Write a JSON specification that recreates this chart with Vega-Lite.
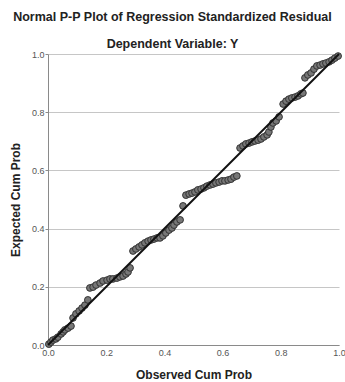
{
  "$schema": "https://vega.github.io/schema/vega-lite/v6.json",
  "width": 291,
  "height": 291,
  "autosize": {"type": "none"},
  "padding": {"left": 48, "top": 54, "right": 6, "bottom": 37},
  "background": "white",
  "title": {
    "text": "Normal P-P Plot of Regression Standardized Residual",
    "subtitle": "Dependent Variable: Y",
    "anchor": "middle",
    "dx": -21,
    "offset": 0,
    "subtitlePadding": 14,
    "font": "Liberation Sans",
    "fontSize": 12.5,
    "fontWeight": "bold",
    "color": "#222222",
    "subtitleFont": "Liberation Sans",
    "subtitleFontSize": 12.5,
    "subtitleFontWeight": "bold",
    "subtitleColor": "#222222"
  },
  "config": {
    "view": {"stroke": null},
    "axis": {
      "labelFont": "Liberation Sans",
      "labelFontSize": 9,
      "labelColor": "#555555",
      "labelFlush": false,
      "titleFont": "Liberation Sans",
      "titleFontSize": 12,
      "titleFontWeight": "bold",
      "titleColor": "#222222",
      "domainColor": "#8a8a8a",
      "tickColor": "#8a8a8a",
      "gridColor": "#c6c6c6"
    }
  },
  "datasets": {
    "points": [
      {"observed": 0.003, "expected": 0.003},
      {"observed": 0.010, "expected": 0.010},
      {"observed": 0.017, "expected": 0.017},
      {"observed": 0.027, "expected": 0.021},
      {"observed": 0.034, "expected": 0.027},
      {"observed": 0.045, "expected": 0.038},
      {"observed": 0.052, "expected": 0.045},
      {"observed": 0.058, "expected": 0.052},
      {"observed": 0.069, "expected": 0.058},
      {"observed": 0.079, "expected": 0.065},
      {"observed": 0.086, "expected": 0.093},
      {"observed": 0.096, "expected": 0.107},
      {"observed": 0.107, "expected": 0.117},
      {"observed": 0.117, "expected": 0.127},
      {"observed": 0.127, "expected": 0.137},
      {"observed": 0.137, "expected": 0.155},
      {"observed": 0.144, "expected": 0.196},
      {"observed": 0.155, "expected": 0.199},
      {"observed": 0.165, "expected": 0.206},
      {"observed": 0.179, "expected": 0.213},
      {"observed": 0.189, "expected": 0.220},
      {"observed": 0.203, "expected": 0.223},
      {"observed": 0.213, "expected": 0.227},
      {"observed": 0.223, "expected": 0.227},
      {"observed": 0.237, "expected": 0.230},
      {"observed": 0.247, "expected": 0.234},
      {"observed": 0.258, "expected": 0.237},
      {"observed": 0.268, "expected": 0.244},
      {"observed": 0.275, "expected": 0.251},
      {"observed": 0.282, "expected": 0.265},
      {"observed": 0.292, "expected": 0.323},
      {"observed": 0.302, "expected": 0.330},
      {"observed": 0.313, "expected": 0.337},
      {"observed": 0.323, "expected": 0.344},
      {"observed": 0.333, "expected": 0.351},
      {"observed": 0.344, "expected": 0.357},
      {"observed": 0.354, "expected": 0.361},
      {"observed": 0.364, "expected": 0.364},
      {"observed": 0.375, "expected": 0.368},
      {"observed": 0.385, "expected": 0.368},
      {"observed": 0.395, "expected": 0.375},
      {"observed": 0.405, "expected": 0.385},
      {"observed": 0.416, "expected": 0.395},
      {"observed": 0.426, "expected": 0.402},
      {"observed": 0.433, "expected": 0.412},
      {"observed": 0.443, "expected": 0.423},
      {"observed": 0.454, "expected": 0.430},
      {"observed": 0.464, "expected": 0.478},
      {"observed": 0.474, "expected": 0.515},
      {"observed": 0.485, "expected": 0.519},
      {"observed": 0.495, "expected": 0.522},
      {"observed": 0.505, "expected": 0.526},
      {"observed": 0.515, "expected": 0.533},
      {"observed": 0.526, "expected": 0.536},
      {"observed": 0.536, "expected": 0.540},
      {"observed": 0.546, "expected": 0.546},
      {"observed": 0.557, "expected": 0.550},
      {"observed": 0.567, "expected": 0.553},
      {"observed": 0.577, "expected": 0.557},
      {"observed": 0.588, "expected": 0.560},
      {"observed": 0.598, "expected": 0.564},
      {"observed": 0.608, "expected": 0.564},
      {"observed": 0.619, "expected": 0.567},
      {"observed": 0.629, "expected": 0.570},
      {"observed": 0.639, "expected": 0.577},
      {"observed": 0.649, "expected": 0.581},
      {"observed": 0.660, "expected": 0.677},
      {"observed": 0.670, "expected": 0.684},
      {"observed": 0.680, "expected": 0.691},
      {"observed": 0.691, "expected": 0.694},
      {"observed": 0.701, "expected": 0.698},
      {"observed": 0.711, "expected": 0.701},
      {"observed": 0.722, "expected": 0.704},
      {"observed": 0.732, "expected": 0.708},
      {"observed": 0.742, "expected": 0.715},
      {"observed": 0.753, "expected": 0.722},
      {"observed": 0.759, "expected": 0.732},
      {"observed": 0.766, "expected": 0.749},
      {"observed": 0.773, "expected": 0.763},
      {"observed": 0.784, "expected": 0.770},
      {"observed": 0.794, "expected": 0.784},
      {"observed": 0.808, "expected": 0.828},
      {"observed": 0.818, "expected": 0.838},
      {"observed": 0.828, "expected": 0.845},
      {"observed": 0.838, "expected": 0.849},
      {"observed": 0.849, "expected": 0.852},
      {"observed": 0.859, "expected": 0.856},
      {"observed": 0.869, "expected": 0.863},
      {"observed": 0.876, "expected": 0.866},
      {"observed": 0.883, "expected": 0.918},
      {"observed": 0.893, "expected": 0.928},
      {"observed": 0.904, "expected": 0.935},
      {"observed": 0.914, "expected": 0.948},
      {"observed": 0.924, "expected": 0.959},
      {"observed": 0.935, "expected": 0.962},
      {"observed": 0.945, "expected": 0.966},
      {"observed": 0.955, "expected": 0.969},
      {"observed": 0.966, "expected": 0.973},
      {"observed": 0.976, "expected": 0.979},
      {"observed": 0.986, "expected": 0.986},
      {"observed": 0.997, "expected": 0.993}
    ],
    "reference": [
      {"observed": 0, "expected": 0},
      {"observed": 1, "expected": 1}
    ]
  },
  "layer": [
    {
      "data": {"name": "points"},
      "mark": {"type": "point", "filled": true, "fill": "#777777", "stroke": "#333333", "strokeWidth": 1, "size": 45, "opacity": 1},
      "encoding": {
        "x": {
          "field": "observed", "type": "quantitative",
          "scale": {"domain": [0, 1], "nice": false, "zero": true},
          "axis": {"title": "Observed Cum Prob", "values": [0, 0.2, 0.4, 0.6, 0.8, 1], "format": ".1f", "grid": false, "ticks": false, "labelPadding": 3, "titlePadding": 12}
        },
        "y": {
          "field": "expected", "type": "quantitative",
          "scale": {"domain": [0, 1], "nice": false},
          "axis": {"title": "Expected Cum Prob", "values": [0, 0.2, 0.4, 0.6, 0.8, 1], "format": ".1f", "grid": true, "tickSize": 3, "labelPadding": 1, "titlePadding": 9}
        }
      }
    },
    {
      "data": {"name": "reference"},
      "mark": {"type": "line", "color": "#111111", "strokeWidth": 2},
      "encoding": {
        "x": {"field": "observed", "type": "quantitative"},
        "y": {"field": "expected", "type": "quantitative"}
      }
    }
  ]
}
